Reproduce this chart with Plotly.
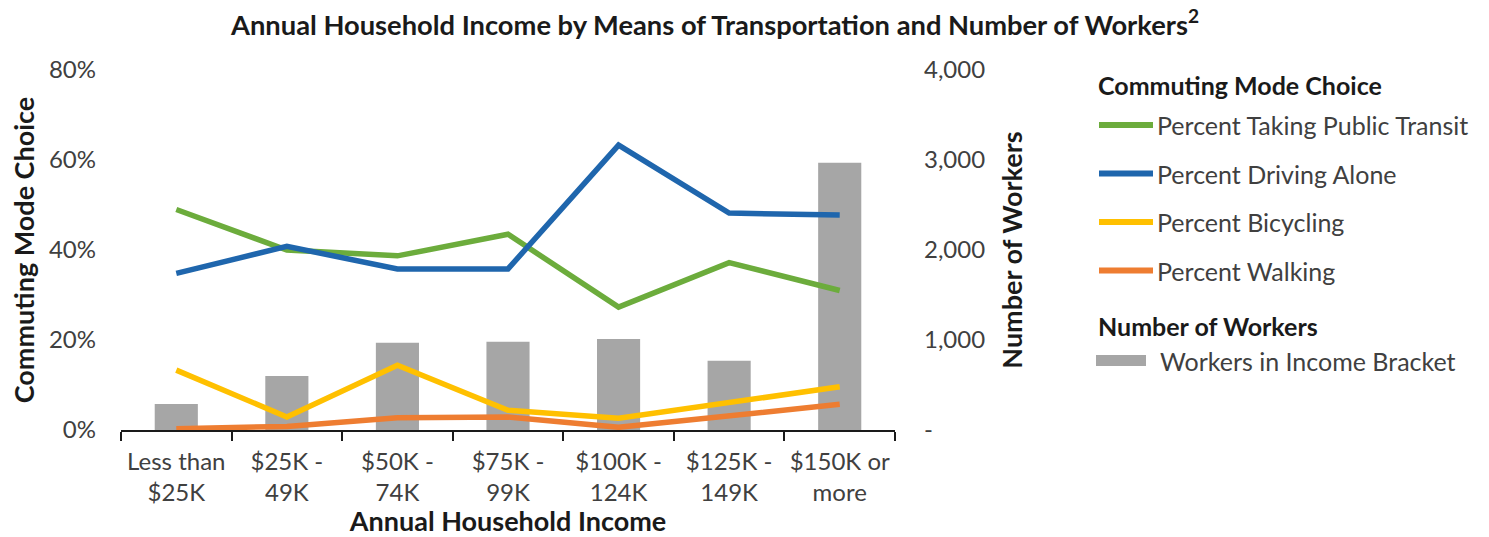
import plotly.graph_objects as go

# Income brackets along the x axis
categories = ["Less than<br>$25K", "$25K -<br>49K", "$50K -<br>74K", "$75K -<br>99K",
              "$100K -<br>124K", "$125K -<br>149K", "$150K or<br>more"]

# Commuting mode shares (percent)
pct_transit = [49.0, 40.0, 38.7, 43.5, 27.3, 37.2, 31.0]
pct_drive = [34.8, 40.8, 35.8, 35.8, 63.3, 48.2, 47.8]
pct_bike = [13.3, 2.9, 14.4, 4.4, 2.6, 6.2, 9.6]
pct_walk = [0.3, 0.8, 2.7, 2.9, 0.6, 3.3, 5.7]

# Workers per income bracket
workers = [290, 600, 970, 980, 1010, 770, 2970]

pct_ticks = [0, 20, 40, 60, 80]
pct_tick_text = ["0%", "20%", "40%", "60%", "80%"]
worker_ticks = [0, 1000, 2000, 3000, 4000]
worker_tick_text = ["-", "1,000", "2,000", "3,000", "4,000"]

series = [
    ("Percent Taking Public Transit", pct_transit, "#6CAC3C"),
    ("Percent Driving Alone", pct_drive, "#1F66AD"),
    ("Percent Bicycling", pct_bike, "#FFC000"),
    ("Percent Walking", pct_walk, "#EE7D31"),
]
BAR_COLOR = "#A6A6A6"
FONT = "Lato"
TXT = "#404040"
DARK = "#1a1a1a"
TICK_SIZE = 24
LEG_SIZE = 25
AXT_SIZE = 27

fig = go.Figure()
fig.add_trace(go.Bar(x=categories, y=workers, name="Workers in Income Bracket",
                     marker=dict(color=BAR_COLOR, line=dict(width=0)),
                     width=0.39, yaxis="y", showlegend=False))
for name, vals, color in series:
    fig.add_trace(go.Scatter(x=categories, y=vals, name=name, mode="lines",
                             line=dict(color=color, width=5.5),
                             yaxis="y2", showlegend=False))

# Legend drawn in paper coordinates
W, H = 1489, 537
L, R, T, B = 121, 594, 70, 107
pw, ph = W - L - R, H - T - B


def px(x):
    return (x - L) / pw


def py(y):
    return (H - B - y) / ph


shapes, annotations = [], []
annotations.append(dict(text="<b>Commuting Mode Choice</b>", x=px(1096), y=py(85),
                        xref="paper", yref="paper", xanchor="left", yanchor="middle",
                        showarrow=False, font=dict(family=FONT, size=LEG_SIZE, color=DARK)))
for i, (name, vals, color) in enumerate(series):
    yy = 125 + i * 48.5
    shapes.append(dict(type="line", xref="paper", yref="paper",
                       x0=px(1099), x1=px(1153), y0=py(yy), y1=py(yy),
                       line=dict(color=color, width=6)))
    annotations.append(dict(text=name, x=px(1155), y=py(yy), xref="paper", yref="paper",
                            xanchor="left", yanchor="middle", showarrow=False,
                            font=dict(family=FONT, size=LEG_SIZE, color=TXT)))
annotations.append(dict(text="<b>Number of Workers</b>", x=px(1096), y=py(326),
                        xref="paper", yref="paper", xanchor="left", yanchor="middle",
                        showarrow=False, font=dict(family=FONT, size=LEG_SIZE, color=DARK)))
shapes.append(dict(type="rect", xref="paper", yref="paper",
                   x0=px(1096), x1=px(1146), y0=py(366), y1=py(355),
                   fillcolor=BAR_COLOR, line=dict(width=0)))
annotations.append(dict(text="Workers in Income Bracket", x=px(1158), y=py(361),
                        xref="paper", yref="paper", xanchor="left", yanchor="middle",
                        showarrow=False, font=dict(family=FONT, size=LEG_SIZE, color=TXT)))

fig.update_layout(
    width=W, height=H,
    margin=dict(l=L, r=R, t=T, b=B, pad=0),
    paper_bgcolor="white", plot_bgcolor="white",
    font=dict(family=FONT, size=TICK_SIZE, color=TXT),
    title=dict(text="<b>Annual Household Income by Means of Transportation and Number of Workers<sup>2</sup></b>",
               x=715 / W, xanchor="center", y=1 - 25 / H, yanchor="middle",
               font=dict(family=FONT, size=27.3, color=DARK)),
    showlegend=False,
    xaxis=dict(range=[-0.5, 6.5], tickson="boundaries", ticks="outside", ticklen=9,
               tickwidth=2, tickcolor=DARK, showline=True, linecolor=DARK,
               linewidth=2, showgrid=False, zeroline=False, ticklabelstandoff=9,
               tickfont=dict(family=FONT, size=TICK_SIZE, color=TXT),
               title=dict(text="<b>Annual Household Income</b>", standoff=0,
                          font=dict(family=FONT, size=AXT_SIZE, color=DARK))),
    yaxis=dict(side="right", range=[0, 4000], tickvals=worker_ticks,
               ticktext=worker_tick_text, showgrid=False, zeroline=False,
               showline=False, ticks="", ticklabelstandoff=28,
               tickfont=dict(family=FONT, size=TICK_SIZE, color=TXT),
               title=dict(text="<b>Number of Workers</b>", standoff=18,
                          font=dict(family=FONT, size=AXT_SIZE, color=DARK))),
    yaxis2=dict(overlaying="y", side="left", range=[0, 80], tickvals=pct_ticks,
                ticktext=pct_tick_text, showgrid=False, zeroline=False, showline=False,
                ticks="", ticklabelstandoff=24,
                tickfont=dict(family=FONT, size=TICK_SIZE, color=TXT),
                title=dict(text="<b>Commuting Mode Choice</b>", standoff=6,
                           font=dict(family=FONT, size=AXT_SIZE, color=DARK))),
    shapes=shapes, annotations=annotations,
)

fig.write_html("out.html")
